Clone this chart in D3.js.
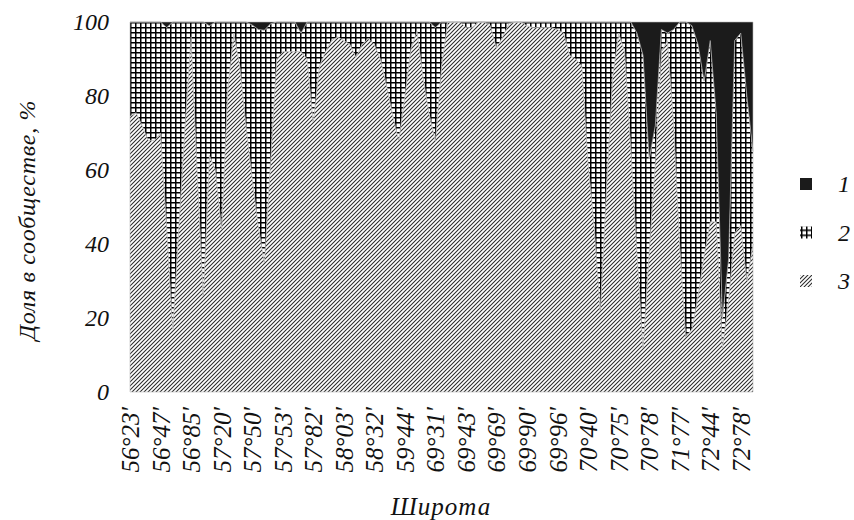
<!DOCTYPE html>
<html><head><meta charset="utf-8">
<script src="https://cdn.jsdelivr.net/npm/d3@7"></script>
<style>
body{margin:0;background:#fff}
text{fill:#111}
</style>
</head><body>
<svg id="chart" width="854" height="520"></svg>
<script>
// x-axis tick labels (every 5th station)
const tickLabels = ["56°23′","56°47′","56°85′","57°20′","57°50′","57°53′","57°82′","58°03′","58°32′","59°44′","69°31′","69°43′","69°69′","69°90′","69°96′","70°40′","70°75′","70°78′","71°77′","72°44′","72°78′"];
const tickEvery = 5;
const yTicks = [0,20,40,60,80,100];
const legendLabels = ["1","2","3"];

// share of group 1 (black), %
const share1 = [0,0,0,0,0,0,1.5,0,0,0, 0,0,0,1,0,0,0,0,0,0, 0.8,2,2.2,0.5,0,0,0,0,3,0, 0,0,0,0,0,0,0,0,0,0, 0,0,0,0,0,0,0,0,0,0, 1.5,0,0,0,0,0,0,0,0,0, 0,0,0,0,0,0,0,0,0,0, 0,0,0,0,0,0,0,0,0,0, 0,0,0,3,9,37,28,2,3,2, 0,0,1,6,16,5,25,80,64,5, 3,20,35];
// share of group 2 (grid), %
const share2 = [25.5,24.5,28,32,32,30,53.5,83,55,28, 4,40,74,35,40,56,18,3,12,28, 41.2,53,62.8,37.5,10,8,8,8,5,10, 27,12,8,5,4,5,6,9.5,6,4.5, 6,10,17,25,32,20,7,2.5,15,25, 30.5,12,0,0,0,1.5,1.5,0,0,1, 7,4,0.5,0,0,1,1.5,1.5,1.5,1.5, 2,3,9,10,12,38,55,78,45,15, 3,8,34,59,79,25,10,6,2,25, 60,85,82,68,47,49,29,8,11,52, 52,50,25];
// share of group 3 (hatch), %
const share3 = [74.5,75.5,72,68,68,70,45,17,45,72, 96,60,26,64,60,44,82,97,88,72, 58,45,35,62,90,92,92,92,92,90, 73,88,92,95,96,95,94,90.5,94,95.5, 94,90,83,75,68,80,93,97.5,85,75, 68,88,100,100,100,98.5,98.5,100,100,99, 93,96,99.5,100,100,99,98.5,98.5,98.5,98.5, 98,97,91,90,88,62,45,22,55,85, 97,92,66,38,12,38,62,92,95,73, 40,15,17,26,37,46,46,12,25,43, 45,30,40];

const stations = d3.range(share3.length);
const rows = stations.map(i => ({g1: share1[i], g2: share2[i], g3: share3[i]}));

const W = 854, H = 520;
const m = {left:130, right:101, top:22, bottom:128};
const svg = d3.select("#chart");
const FONT = "'Liberation Serif','Times New Roman',serif";

const x = d3.scaleLinear().domain([0, stations.length - 1]).range([m.left, W - m.right]);
const y = d3.scaleLinear().domain([0, 100]).range([H - m.bottom, m.top]);

const defs = svg.append("defs");
const pGrid = defs.append("pattern").attr("id","pgrid").attr("patternUnits","userSpaceOnUse")
  .attr("width",5).attr("height",5).attr("x",0).attr("y",m.top);
pGrid.append("rect").attr("width",5).attr("height",5).attr("fill","#fff");
pGrid.append("path").attr("d","M0,0.75H5M0.75,0V5").attr("stroke","#000").attr("stroke-width",1.5).attr("fill","none");

const pHatch = defs.append("pattern").attr("id","phatch").attr("patternUnits","userSpaceOnUse")
  .attr("width",4).attr("height",4);
pHatch.append("rect").attr("width",4).attr("height",4).attr("fill","#fff");
pHatch.append("path").attr("d","M-1,1L1,-1M0,4L4,0M3,5L5,3").attr("stroke","#2a2a2a").attr("stroke-width",1.05).attr("fill","none");

const keys = ["g3","g2","g1"];
const fills = {g1:"#1b1b1b", g2:"url(#pgrid)", g3:"url(#phatch)"};
const stacked = d3.stack().keys(keys)(rows);

const area = d3.area()
  .x((d,i) => x(stations[i]))
  .y0(d => y(d[0]))
  .y1(d => y(d[1]));

svg.append("g").selectAll("path").data(stacked).join("path")
  .attr("d", area)
  .attr("fill", d => fills[d.key])
  .attr("stroke", "#bbb").attr("stroke-width", 0.6);

// y axis labels
const yAxis = d3.axisLeft(y).tickValues(yTicks).tickSize(0).tickPadding(0);
const gy = svg.append("g").attr("transform", `translate(${m.left - 21},0)`).call(yAxis);
gy.select(".domain").remove();
gy.selectAll("text").attr("font-size", 24).attr("fill","#111")
  .style("font-family", FONT).style("font-style","italic");

// x axis labels
const xAxis = d3.axisBottom(x)
  .tickValues(tickLabels.map((_, k) => k * tickEvery))
  .tickFormat((d) => tickLabels[d / tickEvery]).tickSize(0);
const gx = svg.append("g").attr("transform", `translate(0,${H - m.bottom})`).call(xAxis);
gx.select(".domain").remove();
gx.selectAll("text")
  .attr("font-size", 25)
  .style("font-family", FONT).style("font-style","italic")
  .attr("text-anchor","end")
  .attr("y", 0).attr("dy", "0.34em")
  .attr("transform", "translate(0,15) rotate(-90)");

// axis titles
svg.append("text").attr("x", 441).attr("y", 515).attr("text-anchor","middle")
  .attr("font-size", 25).style("font-family", FONT).style("font-style","italic")
  .attr("letter-spacing", 1).text("Широта");
svg.append("text").attr("transform", "translate(35,220) rotate(-90)").attr("text-anchor","middle")
  .attr("font-size", 24).style("font-family", FONT).style("font-style","italic")
  .attr("letter-spacing", 0.7).text("Доля в сообществе, %");

// legend
const lg = svg.append("g").selectAll("g").data(["g1","g2","g3"]).join("g")
  .attr("transform", (d,i) => `translate(806,${184 + i*48.5})`);
lg.append("rect").attr("x",-6).attr("y",-6).attr("width",12).attr("height",12)
  .attr("fill", d => fills[d]);
lg.append("text").attr("x", 32).attr("dy","0.35em").attr("font-size", 24)
  .style("font-family", FONT).style("font-style","italic")
  .text((d,i) => legendLabels[i]);
</script>
</body></html>
